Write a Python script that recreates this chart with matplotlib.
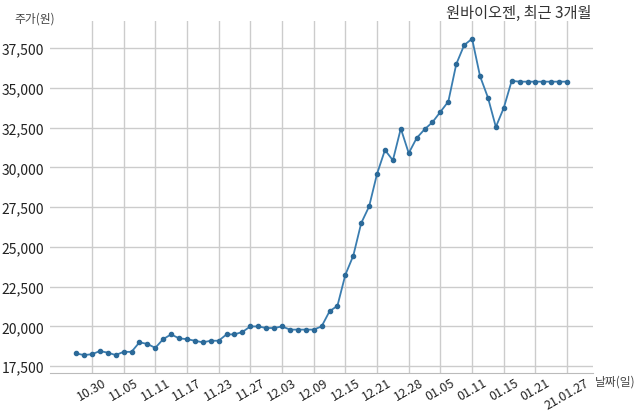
import numpy as np
import matplotlib
matplotlib.use("Agg")
import matplotlib.pyplot as plt
from matplotlib.ticker import FuncFormatter

plt.rcParams['font.family'] = ['Noto Sans CJK KR', 'DejaVu Sans']

# closing prices (won), one per trading day, 20.10.28 ~ 21.01.27
prices = [
    18300, 18200, 18250, 18450, 18350, 18200, 18400, 18400, 19000, 18900,
    18650, 19200, 19500, 19250, 19200, 19100, 19000, 19100, 19100, 19500,
    19500, 19650, 20000, 20000, 19900, 19900, 20000, 19800, 19800, 19800,
    19800, 20000, 20950, 21300, 23250, 24450, 26500, 27550, 29600, 31100,
    30450, 32450, 30900, 31850, 32400, 32850, 33500, 34150, 36500, 37700,
    38100, 35750, 34400, 32550, 33750, 35450, 35400, 35400, 35400, 35400,
    35400, 35400, 35400,
]
tick_labels = ["10.30", "11.05", "11.11", "11.17", "11.23", "11.27", "12.03", "12.09",
               "12.15", "12.21", "12.28", "01.05", "01.11", "01.15", "01.21", "21.01.27"]
y_ticks = [17500, 20000, 22500, 25000, 27500, 30000, 32500, 35000, 37500]

x = np.arange(len(prices))
tick_pos = x[2::4]

fig = plt.figure(figsize=(6.4, 4.14), dpi=100)
ax = fig.add_axes([0.078, 0.097, 0.849, 0.85])

ax.plot(x, prices, color="#3a7db0", linewidth=1.3, marker="o",
        markersize=3.0, markerfacecolor="#2c6a99", markeredgecolor="#2c6a99", zorder=3)

ax.set_xlim(-3.3, 65.3)
ax.set_ylim(17080, 39220)
ax.set_yticks(y_ticks)
ax.yaxis.set_major_formatter(FuncFormatter(lambda v, p: f"{int(v):,}"))
ax.set_xticks(tick_pos)
ax.set_xticklabels(tick_labels, rotation=30, ha="center")

ax.grid(True, color="#cccccc", linewidth=1)
ax.set_axisbelow(True)
ax.tick_params(length=0, labelsize=10, colors="#222222", pad=4)
ax.tick_params(axis="x", labelsize=9, pad=2)
for s in ["top", "right", "left"]:
    ax.spines[s].set_visible(False)
ax.spines["bottom"].set_color("#bbbbbb")

fig.text(0.023, 0.955, "주가(원)", fontsize=8.5, color="#444444", va="center")
fig.text(0.925, 0.967, "원바이오젠, 최근 3개월", fontsize=11, color="#333333",
         ha="right", va="center")
fig.text(0.93, 0.077, "날짜(일)", fontsize=8.5, color="#444444", va="center")

fig.savefig("out.png", dpi=100)
